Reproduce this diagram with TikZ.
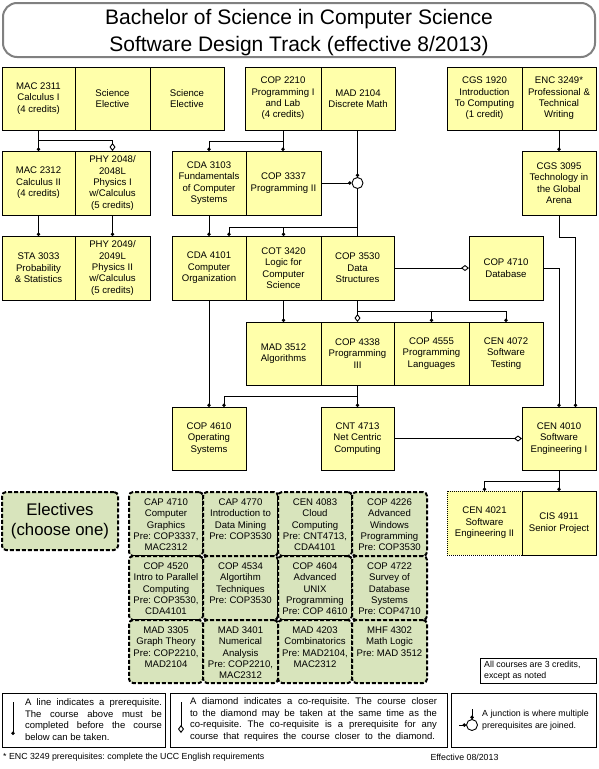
\documentclass[tikz,border=0pt]{standalone}
\usepackage{fontspec}
\setmainfont{Liberation Sans}
\usetikzlibrary{arrows.meta}
\definecolor{boxy}{RGB}{255,255,170}
\definecolor{elg}{RGB}{216,228,188}
\definecolor{ttlgray}{RGB}{128,128,128}
\newcommand\jline[2]{\makebox[#1][s]{#2}}
\frenchspacing
\begin{document}
\begin{tikzpicture}[x=1pt,y=-1pt,
  course/.style={draw=black, line width=0.9pt, fill=boxy, inner sep=0pt, outer sep=0pt, align=center, font=\fontsize{9.6}{11.4}\selectfont},
  pre/.style={line width=0.9pt, -{Circle[length=3.4pt]}},
  co/.style={line width=0.9pt, -{Diamond[open, length=8pt, width=6pt, line width=0.9pt]}},
  plain/.style={line width=0.9pt},
  ecell/.style={draw=black, line width=2pt, dash pattern=on 4pt off 2pt, rounded corners=4pt, fill=elg, inner sep=0pt},
  etext/.style={inner sep=0pt, align=center, font=\fontsize{9.6}{11.4}\selectfont},
  legend/.style={draw=black, line width=0.9pt, inner sep=0pt},
  small/.style={inner sep=0pt, font=\fontsize{8.8}{11.5}\selectfont},
  legtext/.style={inner sep=0pt, font=\fontsize{9.5}{11.6}\selectfont},
  junction/.style={circle, draw=black, line width=0.9pt, fill=white, minimum size=11pt, inner sep=0pt}
]
\useasboundingbox (0,0) rectangle (598,769);

% title
\node[draw=ttlgray, line width=2pt, rounded corners=14pt, minimum width=592pt, minimum height=54pt, inner sep=0pt] (titlebox) at (299,30) {};
\node[inner sep=0pt, align=center, font=\fontsize{21}{26.5}\selectfont] (titletext) at (299,32.5) {Bachelor of Science in Computer Science\\Software Design Track (effective 8/2013)};

% row 1
\node[course, minimum width=73pt, minimum height=63pt] (mac2311) at (38.5,98.5) {MAC 2311\\Calculus I\\(4 credits)};
\node[course, minimum width=75pt, minimum height=63pt] (sci1) at (112.5,98.5) {Science\\Elective};
\node[course, minimum width=74pt, minimum height=63pt] (sci2) at (187,98.5) {Science\\Elective};
\node[course, minimum width=76pt, minimum height=63pt] (cop2210) at (283,98.5) {COP 2210\\Programming I\\and Lab\\(4 credits)};
\node[course, minimum width=74pt, minimum height=63pt] (mad2104) at (358,98.5) {MAD 2104\\Discrete Math};
\node[course, minimum width=75pt, minimum height=63pt] (cgs1920) at (484.5,98.5) {CGS 1920\\Introduction\\To Computing\\(1 credit)};
\node[course, minimum width=74pt, minimum height=63pt] (enc3249) at (559,98.5) {ENC 3249*\\Professional \&\\Technical\\Writing};

% row 2
\node[course, minimum width=73pt, minimum height=64pt] (mac2312) at (38.5,183) {MAC 2312\\Calculus II\\(4 credits)};
\node[course, minimum width=75pt, minimum height=64pt] (phy2048) at (112.5,183) {PHY 2048/\\2048L\\Physics I\\w/Calculus\\(5 credits)};
\node[course, minimum width=74pt, minimum height=64pt] (cda3103) at (209,183) {CDA 3103\\Fundamentals\\of Computer\\Systems};
\node[course, minimum width=75pt, minimum height=64pt] (cop3337) at (283.5,183) {COP 3337\\Programming II};
\node[course, minimum width=74pt, minimum height=64pt] (cgs3095) at (559,183) {CGS 3095\\Technology in\\the Global\\Arena};
\node[junction] (jc) at (357.5,183) {};

% row 3
\node[course, minimum width=73pt, minimum height=64pt] (sta3033) at (38.5,268) {STA 3033\\Probability\\\& Statistics};
\node[course, minimum width=75pt, minimum height=64pt] (phy2049) at (112.5,268) {PHY 2049/\\2049L\\Physics II\\w/Calculus\\(5 credits)};
\node[course, minimum width=74pt, minimum height=64pt] (cda4101) at (209,268) {CDA 4101\\Computer\\Organization};
\node[course, minimum width=75pt, minimum height=64pt] (cot3420) at (283.5,268) {COT 3420\\Logic for\\Computer\\Science};
\node[course, minimum width=73pt, minimum height=64pt] (cop3530) at (357.5,268) {COP 3530\\Data\\Structures};
\node[course, minimum width=74pt, minimum height=64pt] (cop4710) at (506,268) {COP 4710\\Database};

% row 4
\node[course, minimum width=75pt, minimum height=63pt] (mad3512) at (283.5,353.5) {MAD 3512\\Algorithms};
\node[course, minimum width=73pt, minimum height=63pt] (cop4338) at (357.5,353.5) {COP 4338\\Programming\\III};
\node[course, minimum width=75pt, minimum height=63pt] (cop4555) at (431.5,353.5) {COP 4555\\Programming\\Languages};
\node[course, minimum width=74pt, minimum height=63pt] (cen4072) at (506,353.5) {CEN 4072\\Software\\Testing};

% row 5
\node[course, minimum width=74pt, minimum height=63pt] (cop4610) at (209,438.5) {COP 4610\\Operating\\Systems};
\node[course, minimum width=73pt, minimum height=63pt] (cnt4713) at (357.5,438.5) {CNT 4713\\Net Centric\\Computing};
\node[course, minimum width=74pt, minimum height=63pt] (cen4010) at (559,438.5) {CEN 4010\\Software\\Engineering I};

% row 6
\node[course, dash pattern=on 1pt off 1pt, minimum width=75pt, minimum height=64pt] (cen4021) at (484.5,523) {CEN 4021\\Software\\Engineering II};
\node[course, minimum width=74pt, minimum height=64pt] (cis4911) at (559,523) {CIS 4911\\Senior Project};

% connectors
\draw[pre] (mac2311.south) -- (mac2312.north);
\draw[co] (mac2311.south) -- ++(0,10) -| (phy2048.north);
\draw[pre] (mac2312.south) -- (sta3033.north);
\draw[pre] (phy2048.south) -- (phy2049.north);
\draw[pre] (cop2210.south) -- (cop2210.south |- cop3337.north);
\draw[pre] (cop2210.south) -- ++(0,11) -| (cda3103.north);
\draw[pre] (jc.north |- mad2104.south) -- (jc.north);
\draw[pre] (cop3337.east) -- (jc.west);
\draw[plain] (jc.south) -- (jc.south |- cop3530.north);
\coordinate (jb) at (357.5,227);
\draw[pre] (jb) -| ([xshift=20pt]cda4101.north);
\draw[pre] (jb) -| (cot3420.north);
\draw[pre] (cda3103.south) -- (cda4101.north);
\draw[pre] (cda4101.south) -- (cop4610.north);
\draw[pre] (cot3420.south) -- (mad3512.north);
\draw[co] (cop3530.south) -- (cop4338.north);
\draw[pre] (cop3530.south) -- ++(0,11) -| (cop4555.north);
\draw[pre] (cop3530.south) -- ++(0,11) -| (cen4072.north);
\draw[co] (cop3530.east) -- (cop4710.west);
\draw[pre] (cop4338.south) -- (cnt4713.north);
\draw[pre] (cop4338.south) -- ++(0,11) -| ([xshift=15pt]cop4610.north);
\draw[co] (cnt4713.east) -- (cen4010.west);
\draw[pre] (cop4710.east) -| (cen4010.north);
\draw[pre] (cgs3095.south) -- ++(0,22) -| ([xshift=16.5pt]cen4010.north);
\draw[pre] (enc3249.south) -- (cgs3095.north);
\draw[pre] (cen4010.south) -- ++(0,11) -| (cen4021.north);
\draw[pre] (cen4010.south) -- (cis4911.north);

% electives
\node[ecell, minimum width=116pt, minimum height=58pt, align=center, font=\fontsize{16.8}{20.5}\selectfont] (elec) at (60,521) {Electives\\(choose one)};

\node[ecell, minimum width=74pt, minimum height=64pt] (e11) at (166,524) {};
\node[ecell, minimum width=75pt, minimum height=64pt] (e12) at (240.5,524) {};
\node[ecell, minimum width=74pt, minimum height=64pt] (e13) at (315,524) {};
\node[ecell, minimum width=75pt, minimum height=64pt] (e14) at (389.5,524) {};
\node[ecell, minimum width=74pt, minimum height=64pt] (e21) at (166,588) {};
\node[ecell, minimum width=75pt, minimum height=64pt] (e22) at (240.5,588) {};
\node[ecell, minimum width=74pt, minimum height=64pt] (e23) at (315,588) {};
\node[ecell, minimum width=75pt, minimum height=64pt] (e24) at (389.5,588) {};
\node[ecell, minimum width=74pt, minimum height=63pt] (e31) at (166,651.5) {};
\node[ecell, minimum width=75pt, minimum height=63pt] (e32) at (240.5,651.5) {};
\node[ecell, minimum width=74pt, minimum height=63pt] (e33) at (315,651.5) {};
\node[ecell, minimum width=75pt, minimum height=63pt] (e34) at (389.5,651.5) {};

\node[etext, anchor=north] (t11) at (166,498.4) {CAP 4710\\Computer\\Graphics\\Pre: COP3337,\\MAC2312};
\node[etext, anchor=north] (t12) at (240.5,498.4) {CAP 4770\\Introduction to\\Data Mining\\Pre: COP3530};
\node[etext, anchor=north] (t13) at (315,498.4) {CEN 4083\\Cloud\\Computing\\Pre: CNT4713,\\CDA4101};
\node[etext, anchor=north] (t14) at (389.5,498.4) {COP 4226\\Advanced\\Windows\\Programming\\Pre: COP3530};
\node[etext, anchor=north] (t21) at (166,562.4) {COP 4520\\Intro to Parallel\\Computing\\Pre: COP3530,\\CDA4101};
\node[etext, anchor=north] (t22) at (240.5,562.4) {COP 4534\\Algortihm\\Techniques\\Pre: COP3530};
\node[etext, anchor=north] (t23) at (315,562.4) {COP 4604\\Advanced\\UNIX\\Programming\\Pre: COP 4610};
\node[etext, anchor=north] (t24) at (389.5,562.4) {COP 4722\\Survey of\\Database\\Systems\\Pre: COP4710};
\node[etext, anchor=north] (t31) at (166,626.4) {MAD 3305\\Graph Theory\\Pre: COP2210,\\MAD2104};
\node[etext, anchor=north] (t32) at (240.5,626.4) {MAD 3401\\Numerical\\Analysis\\Pre: COP2210,\\MAC2312};
\node[etext, anchor=north] (t33) at (315,626.4) {MAD 4203\\Combinatorics\\Pre: MAD2104,\\MAC2312};
\node[etext, anchor=north] (t34) at (389.5,626.4) {MHF 4302\\Math Logic\\Pre: MAD 3512};

% notes and legend
\node[legend, minimum width=116pt, minimum height=25pt] (allc) at (538,670.5) {};
\node[small, anchor=west, align=left] (allct) at (484,670.5) {All courses are 3 credits,\\except as noted};

\node[legend, minimum width=163pt, minimum height=54pt] (leg1) at (83.5,720) {};
\node[legtext, align=left] (leg1t) at (93.5,719.5) {\jline{137pt}{A line indicates a prerequisite.}\\\jline{137pt}{The course above must be}\\\jline{137pt}{completed before the course}\\below can be taken.};
\coordinate (l1a) at (13,702);
\coordinate (l1b) at (13,735);
\draw[pre] (l1a) -- (l1b);

\node[legend, minimum width=277pt, minimum height=54pt] (leg2) at (308.5,720) {};
\node[legtext, align=left] (leg2t) at (313.5,719.5) {\jline{247pt}{A diamond indicates a co-requisite. The course closer}\\\jline{247pt}{to the diamond may be taken at the same time as the}\\\jline{247pt}{co-requisite. The co-requisite is a prerequisite for any}\\\jline{245pt}{course that requires the course closer to the diamond.}};
\coordinate (l2a) at (181,702);
\coordinate (l2b) at (181,733);
\draw[co] (l2a) -- (l2b);

\node[legend, minimum width=145pt, minimum height=54pt] (leg3) at (523.5,720) {};
\node[small, anchor=west, align=left] (leg3t) at (482,720) {A junction is where multiple\\prerequisites are joined.};
\node[junction] (ljc) at (472,725) {};
\coordinate (l3a) at (472,709);
\coordinate (l3b) at (459,725);
\draw[pre] (l3a) -- (ljc.north);
\draw[pre] (l3b) -- (ljc.west);

\node[small, anchor=west] (foot) at (3,757) {* ENC 3249 prerequisites: complete the UCC English requirements};
\node[small] (eff) at (464.5,757) {Effective 08/2013};
\end{tikzpicture}
\end{document}
